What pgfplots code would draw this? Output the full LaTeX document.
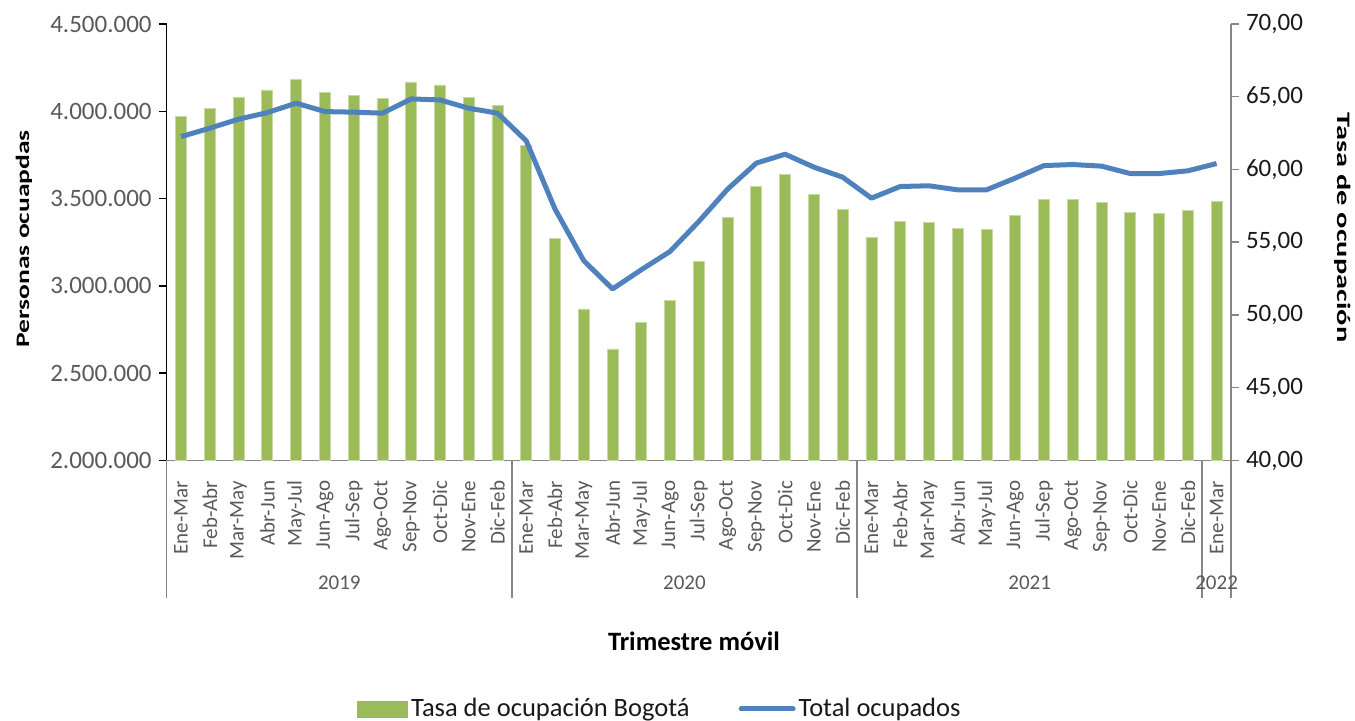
\documentclass[border=0pt]{standalone}
\usepackage{fontspec}
\setmainfont{Carlito}
\usepackage{graphicx}
\usepackage{pgfplots}
\pgfplotsset{compat=1.18}

\definecolor{barg}{HTML}{9BBB59}
\definecolor{lineb}{HTML}{4F81BD}
\definecolor{txtgray}{HTML}{595959}
\definecolor{axgray}{HTML}{868686}

\begin{document}
\begin{tikzpicture}
\path[use as bounding box] (0,0) rectangle (677.5pt,360.5pt);
\begin{axis}[
  at={(83.35pt,130.25pt)}, anchor=south west,
  scale only axis, width=532.15pt, height=218.25pt,
  xmin=-0.5, xmax=36.5, ymin=2000000, ymax=4500000,
  clip=false,
  axis x line*=bottom, axis y line*=left,
  x axis line style={axgray, line width=0.75pt, -},
  y axis line style={black, line width=0.75pt, -},
  tick align=outside, major tick length=4pt,
  xtick={0,...,36},
  xticklabels={Ene-Mar,Feb-Abr,Mar-May,Abr-Jun,May-Jul,Jun-Ago,Jul-Sep,Ago-Oct,Sep-Nov,Oct-Dic,Nov-Ene,Dic-Feb,
               Ene-Mar,Feb-Abr,Mar-May,Abr-Jun,May-Jul,Jun-Ago,Jul-Sep,Ago-Oct,Sep-Nov,Oct-Dic,Nov-Ene,Dic-Feb,
               Ene-Mar,Feb-Abr,Mar-May,Abr-Jun,May-Jul,Jun-Ago,Jul-Sep,Ago-Oct,Sep-Nov,Oct-Dic,Nov-Ene,Dic-Feb,
               Ene-Mar},
  x tick label style={font=\fontsize{10.5}{12}\selectfont, text=txtgray, rotate=90, anchor=east, inner sep=0pt, xshift=-6pt},
  xtick style={draw=none},
  extra x ticks={-0.5,11.5,23.5,35.5,36.5},
  extra x tick labels={},
  extra x tick style={xtick style={draw=axgray, line width=0.75pt}, major tick length=68.75pt, tick align=outside},
  ytick={2000000,2500000,3000000,3500000,4000000,4500000},
  yticklabels={2.000.000,2.500.000,3.000.000,3.500.000,4.000.000,4.500.000},
  scaled y ticks=false,
  y tick label style={font=\fontsize{12.5}{14}\selectfont, text=txtgray},
  ytick style={black, line width=0.75pt},
  ybar, bar width=5.5pt,
]
\addplot[fill=barg, draw=barg!55!white, line width=0.4pt] coordinates {
(0,3970000) (1,4018000) (2,4078000) (3,4122000) (4,4184000) (5,4107000)
(6,4090000) (7,4071000) (8,4168000) (9,4151000) (10,4078000) (11,4031000)
(12,3805000) (13,3274000) (14,2868000) (15,2639000) (16,2791000) (17,2919000)
(18,3138000) (19,3392000) (20,3571000) (21,3636000) (22,3526000) (23,3438000)
(24,3280000) (25,3367000) (26,3362000) (27,3329000) (28,3325000) (29,3403000)
(30,3495000) (31,3497000) (32,3480000) (33,3419000) (34,3413000) (35,3430000)
(36,3482000)};
\node[font=\fontsize{10.5}{12}\selectfont, text=txtgray] at (axis cs:5.5,2000000) [yshift=-61.25pt] {2019};
\node[font=\fontsize{10.5}{12}\selectfont, text=txtgray] at (axis cs:17.5,2000000) [yshift=-61.25pt] {2020};
\node[font=\fontsize{10.5}{12}\selectfont, text=txtgray] at (axis cs:29.5,2000000) [yshift=-61.25pt] {2021};
\node[font=\fontsize{10.5}{12}\selectfont, text=txtgray] at (axis cs:36,2000000) [yshift=-61.25pt] {2022};
\node[font=\fontsize{13.25}{15}\selectfont\bfseries, text=black] at (rel axis cs:0.4954,-0.4135) {Trimestre móvil};
\end{axis}
\begin{axis}[
  at={(83.35pt,130.25pt)}, anchor=south west,
  scale only axis, width=532.15pt, height=218.25pt,
  xmin=-0.5, xmax=36.5, ymin=40, ymax=70,
  axis x line=none, axis y line*=right,
  y axis line style={axgray, line width=0.75pt, -},
  tick align=outside, major tick length=4pt,
  ytick={40,45,50,55,60,65,70},
  yticklabels={{40,00},{45,00},{50,00},{55,00},{60,00},{65,00},{70,00}},
  y tick label style={font=\fontsize{12.5}{14}\selectfont, text=black!90},
  ytick style={axgray, line width=0.75pt},
  legend columns=2,
  legend style={draw=none, fill=none, at={(0.1788,-0.5693)}, anchor=west, inner sep=0pt,
    font=\fontsize{13.25}{15}\selectfont, text=black!90,
    nodes={inner xsep=1.5pt},
    /tikz/every even column/.append style={column sep=23pt}},
]
\addlegendimage{legend image code/.code={\fill[barg] (0pt,-4pt) rectangle (25pt,4pt);}}
\addplot[lineb, line width=2.5pt, line join=round,
  legend image code/.code={\draw[lineb, line width=2.5pt, line cap=round] (1pt,0pt) -- (27pt,0pt);}] coordinates {
(0,62.26) (1,62.84) (2,63.46) (3,63.91) (4,64.56) (5,63.98)
(6,63.94) (7,63.87) (8,64.85) (9,64.78) (10,64.21) (11,63.87)
(12,61.97) (13,57.28) (14,53.73) (15,51.79) (16,53.11) (17,54.37)
(18,56.43) (19,58.65) (20,60.44) (21,61.05) (22,60.16) (23,59.47)
(24,58.03) (25,58.83) (26,58.88) (27,58.60) (28,58.60) (29,59.41)
(30,60.27) (31,60.34) (32,60.23) (33,59.72) (34,59.72) (35,59.91)
(36,60.41)};
\legend{Tasa de ocupación Bogotá, Total ocupados}
\end{axis}
\node[rotate=90] at (12pt,241pt) {\scalebox{1.45}[1]{\fontsize{9.5}{11}\selectfont\bfseries Personas ocuapdas}};
\node[rotate=-90] at (671.5pt,246.75pt) {\scalebox{1.6}[1]{\fontsize{9.5}{11}\selectfont\bfseries Tasa de ocupación}};
\end{tikzpicture}
\end{document}
